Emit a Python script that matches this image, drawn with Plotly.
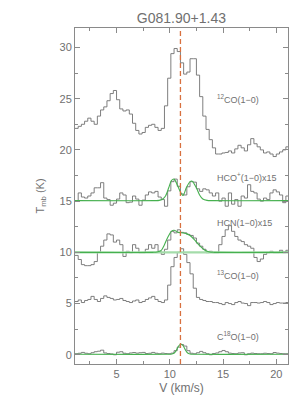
import numpy as np
import plotly.graph_objects as go

# channel velocities (km/s)
velocity = [round(1.1 + 0.3 * i, 2) for i in range(68)]

co12 = [22.1, 22.3, 22.5, 22.8, 23.1, 22.8, 22.5, 23.3, 23.9, 24.2, 24.8, 25.5, 25.8, 24.9, 24.0, 23.8, 23.9,
        23.5, 22.6, 21.9, 21.55, 21.7, 22.2, 22.4, 22.5, 22.2, 21.9, 22.1, 24.3, 27.0, 29.4, 29.9, 29.6, 28.5,
        27.4, 27.6, 28.9, 28.9, 27.3, 25.2, 23.3, 22.0, 21.0, 20.2, 19.6, 19.6, 19.7, 19.75, 19.9, 19.7, 20.1,
        20.45, 20.2, 19.9, 20.5, 21.1, 20.6, 20.3, 20.0, 19.7, 19.8, 19.6, 19.35, 19.6, 19.8, 20.0, 20.3, 20.5]

hcop = [15.0, 15.8, 15.4, 15.3, 15.5, 15.8, 16.3, 16.3, 16.8, 15.3, 15.15, 14.6, 14.8, 15.2, 15.8, 15.6, 14.85,
        14.9, 15.5, 15.2, 14.6, 15.1, 15.6, 15.9, 15.8, 15.95, 15.4, 15.15, 14.5, 16.0, 16.9, 17.15, 16.45, 15.7,
        15.6, 16.4, 16.9, 16.85, 16.2, 15.95, 16.2, 16.1, 15.8, 15.5, 15.8, 15.0, 15.3, 14.5, 15.8, 14.7, 15.15,
        14.5, 15.5, 15.3, 16.6, 15.95, 15.8, 15.2, 15.0, 15.3, 15.15, 15.8, 16.1, 15.9, 15.6, 14.85, 15.5, 15.3]

hcn = [9.7, 9.3, 8.8, 8.7, 8.7, 8.8, 9.1, 10.0, 10.6, 11.2, 11.8, 11.7, 11.0, 11.2, 10.75, 9.6, 10.1,
       9.97, 10.75, 10.4, 9.97, 9.97, 10.3, 10.75, 10.4, 10.75, 10.1, 9.8, 10.3, 11.2, 12.05, 11.9, 12.2, 11.95,
       11.9, 11.75, 11.65, 11.4, 10.9, 10.6, 10.3, 9.97, 10.1, 9.97, 9.97, 10.75, 11.55, 12.2, 12.6, 12.05, 11.55,
       11.2, 11.05, 10.75, 10.6, 10.4, 9.5, 9.1, 9.35, 9.8, 9.97, 10.1, 9.97, 9.97, 10.2, 9.97, 10.2, 10.1]

co13 = [5.2, 5.35, 5.1, 5.3, 5.4, 5.7, 5.4, 5.2, 5.5, 5.75, 5.6, 5.5, 5.35, 5.4, 5.5, 5.3, 5.2,
        5.1, 5.25, 5.35, 5.1, 5.2, 5.4, 5.55, 5.7, 5.4, 5.2, 5.1, 5.35, 6.8, 8.6, 9.5, 10.0, 10.35,
        9.8, 9.0, 7.9, 6.5, 5.6, 5.4, 5.3, 5.2, 5.2, 5.1, 5.1, 5.0, 4.9, 5.1, 5.0, 4.9, 5.1,
        5.2, 5.05, 5.0, 4.8, 5.1, 5.1, 5.05, 5.1, 5.2, 5.1, 4.9, 5.0, 5.1, 5.05, 5.05, 5.1, 5.1]

c18o = [0.1, 0.15, 0.23, 0.15, 0.1, 0.2, 0.3, 0.35, 0.45, 0.18, 0.12, 0.08, 0.0, 0.25, 0.3, 0.15, 0.1,
        0.18, 0.22, 0.16, 0.2, 0.23, 0.12, 0.15, 0.23, 0.15, 0.1, 0.16, 0.12, 0.1, 0.16, 0.4, 0.75, 1.0,
        0.85, 0.4, 0.15, 0.1, 0.2, 0.33, 0.2, 0.1, 0.0, 0.12, 0.18, 0.3, 0.42, 0.3, 0.16, 0.12, 0.1,
        0.18, 0.2, 0.0, 0.1, 0.16, 0.12, 0.1, 0.1, 0.15, 0.12, 0.1, 0.22, 0.16, 0.12, 0.1, 0.1, 0.1]

# fitted profiles
hcop_fit_v = [1.1, 8.6, 9.0, 9.3, 9.6, 9.9, 10.15, 10.4, 10.7, 11.0, 11.25, 11.55, 11.9, 12.1, 12.5, 12.8, 13.1, 13.5, 14.0, 21.1]
hcop_fit_t = [15.05, 15.05, 15.07, 15.18, 15.5, 16.3, 17.0, 17.15, 16.6, 15.9, 15.55, 16.3, 16.9, 16.95, 16.3, 15.6, 15.2, 15.07, 15.05, 15.05]

hcn_fit_v = [1.1, 8.4, 8.8, 9.2, 9.5, 9.8, 10.15, 10.4, 10.8, 11.25, 11.5, 11.9, 12.35, 12.8, 13.3, 13.75, 14.2, 21.1]
hcn_fit_t = [10.0, 10.0, 10.03, 10.2, 10.75, 11.45, 12.05, 12.15, 11.95, 11.9, 11.85, 11.65, 11.2, 10.65, 10.2, 10.03, 10.0, 10.0]

c18o_fit_v = [1.1, 9.8, 10.2, 10.45, 10.65, 10.85, 11.05, 11.25, 11.45, 11.65, 11.9, 12.3, 21.1]
c18o_fit_t = [0.05, 0.05, 0.07, 0.2, 0.5, 0.88, 1.05, 0.88, 0.5, 0.2, 0.07, 0.05, 0.05]

v_lsr = 11.0

labels = ["<sup>12</sup>CO(1−0)", "HCO<sup>+</sup>(1−0)x15", "HCN(1−0)x15", "<sup>13</sup>CO(1−0)", "C<sup>18</sup>O(1−0)"]
label_y = [25.0, 17.35, 12.86, 7.8, 1.8]
label_x = 14.35

GRAY = "#707070"
GREEN = "#46b04f"
LIGHTGREEN = "#a4dcaa"
TEXT = "#707070"
FONT = "Liberation Sans"

fig = go.Figure()

for y in [co12, hcop, hcn, co13, c18o]:
    fig.add_trace(go.Scatter(x=velocity, y=y, mode="lines", line=dict(color=GRAY, width=0.9, shape="hv"),
                             showlegend=False, hoverinfo="skip"))

# flat baseline of the HCN fit
fig.add_trace(go.Scatter(x=[1.1, 21.1], y=[10.0, 10.0], mode="lines",
                         line=dict(color=LIGHTGREEN, width=2.2), showlegend=False))

for fv, ft in [(hcop_fit_v, hcop_fit_t), (hcn_fit_v, hcn_fit_t), (c18o_fit_v, c18o_fit_t)]:
    fig.add_trace(go.Scatter(x=fv, y=ft, mode="lines", line=dict(color=GREEN, width=1.1, shape="spline", smoothing=0.8),
                             showlegend=False, hoverinfo="skip"))

fig.add_trace(go.Scatter(x=[v_lsr, v_lsr], y=[-0.9, 31.9], mode="lines",
                         line=dict(color="#d8703f", width=1.3, dash="5px,3px"), showlegend=False))

for t, y in zip(labels, label_y):
    fig.add_annotation(x=label_x, y=y, text=t, showarrow=False, xanchor="left", yanchor="middle",
                       borderpad=0, font=dict(family=FONT, size=9, color=TEXT))

axis_common = dict(showline=True, linecolor="#8a8a8a", linewidth=1, mirror="ticks", ticks="inside",
                   ticklen=5, tickcolor="#8a8a8a", showgrid=False, zeroline=False,
                   tickfont=dict(family=FONT, size=11, color=TEXT))

fig.update_xaxes(range=[1.1, 21.1], tickvals=[5, 10, 15, 20],
                 minor=dict(tickvals=[2.5, 7.5, 12.5, 17.5], ticklen=3, ticks="inside", tickcolor="#8a8a8a"),
                 title=dict(text="V (km/s)", font=dict(family=FONT, size=12, color=TEXT), standoff=4),
                 **axis_common)
fig.update_yaxes(range=[-0.9, 31.9], tickvals=[0, 5, 10, 15, 20, 25, 30],
                 minor=dict(tickvals=[2.5, 7.5, 12.5, 17.5, 22.5, 27.5], ticklen=3, ticks="inside", tickcolor="#8a8a8a"),
                 title=dict(text="T<sub>mb</sub> (K)", font=dict(family=FONT, size=11, color=TEXT), standoff=12),
                 **axis_common)

fig.update_layout(
    width=300, height=399,
    margin=dict(l=67, r=20, t=20, b=43),
    paper_bgcolor="white", plot_bgcolor="white",
    title=dict(text="G081.90+1.43", x=0.578, xanchor="center", y=0.975, yanchor="middle",
               font=dict(family=FONT, size=14, color=TEXT)),
)

fig.write_html("out.html")
